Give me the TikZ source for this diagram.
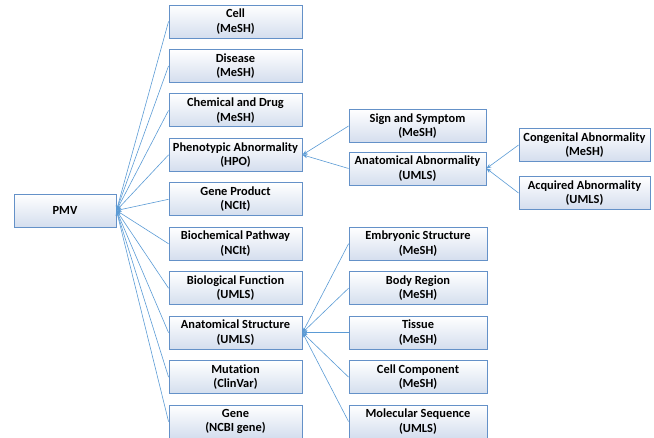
\documentclass[tikz,border=0pt]{standalone}
\usepackage{fontspec}
\setmainfont{Carlito}[BoldFont={Carlito Bold},Ligatures={NoCommon}]
\usetikzlibrary{arrows.meta}
\definecolor{bline}{RGB}{91,155,213}
\definecolor{bborder}{RGB}{100,145,200}
\definecolor{bfill}{RGB}{212,222,238}
\begin{document}
\begin{tikzpicture}[x=1pt,y=-1pt,
 box/.style={draw=bborder, line width=0.9pt, top color=white, bottom color=bfill, minimum width=133pt, minimum height=33pt, align=center, font=\fontsize{12.4}{14.5}\selectfont\bfseries, text=black, inner sep=0pt},
 conn/.style={draw=bline, line width=0.6pt, -{Stealth[length=5pt,width=4pt]}}]
\useasboundingbox (0,0) rectangle (654,438);
% column 1
\node[box] (cell) at (235.5,21.5) {Cell\\(MeSH)};
\node[box] (disease) at (235.5,65.95) {Disease\\(MeSH)};
\node[box] (chem) at (235.5,110.4) {Chemical and Drug\\(MeSH)};
\node[box] (pheno) at (235.5,154.85) {Phenotypic Abnormality\\(HPO)};
\node[box] (geneprod) at (235.5,199.3) {Gene Product\\(NCIt)};
\node[box] (biochem) at (235.5,243.75) {Biochemical Pathway\\(NCIt)};
\node[box] (biofunc) at (235.5,288.2) {Biological Function\\(UMLS)};
\node[box] (anatstr) at (235.5,332.65) {Anatomical Structure\\(UMLS)};
\node[box] (mut) at (235.5,377.1) {Mutation\\(ClinVar)};
\node[box] (gene) at (235.5,421.55) {Gene\\(NCBI gene)};
% root
\node[box, minimum width=102pt] (pmv) at (65,210.5) {PMV};
% column 2 upper
\node[box, minimum width=137pt] (sign) at (417.5,126) {Sign and Symptom\\(MeSH)};
\node[box, minimum width=137pt] (anatabn) at (417.5,168.5) {Anatomical Abnormality\\(UMLS)};
% column 3
\node[box, minimum width=131pt] (cong) at (584.5,145) {Congenital Abnormality\\(MeSH)};
\node[box, minimum width=131pt] (acq) at (584.5,193) {Acquired Abnormality\\(UMLS)};
% column 2 lower
\node[box, minimum width=138pt] (emb) at (418,243.75) {Embryonic Structure\\(MeSH)};
\node[box, minimum width=138pt] (body) at (418,288.2) {Body Region\\(MeSH)};
\node[box, minimum width=138pt] (tissue) at (418,332.65) {Tissue\\(MeSH)};
\node[box, minimum width=138pt] (cellcomp) at (418,377.1) {Cell Component\\(MeSH)};
\node[box, minimum width=138pt] (molseq) at (418,421.55) {Molecular Sequence\\(UMLS)};
% connectors
\foreach \n in {cell,disease,chem,pheno,geneprod,biochem,biofunc,anatstr,mut,gene}
  \draw[conn] (\n.west) -- (pmv.east);
\draw[conn] (sign.west) -- (pheno.east);
\draw[conn] (anatabn.west) -- (pheno.east);
\draw[conn] (cong.west) -- (anatabn.east);
\draw[conn] (acq.west) -- (anatabn.east);
\foreach \n in {emb,body,tissue,cellcomp,molseq}
  \draw[conn] (\n.west) -- (anatstr.east);
\end{tikzpicture}
\end{document}
